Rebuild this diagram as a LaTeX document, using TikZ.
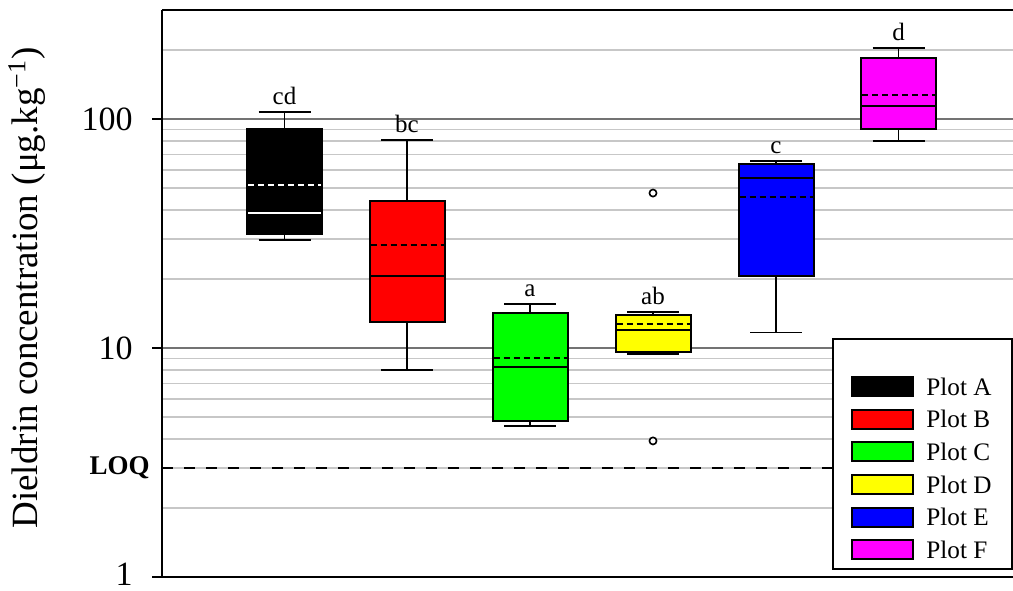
\documentclass[tikz,border=0pt]{standalone}
\usepackage{fontspec}
\setmainfont{Liberation Serif}
\usetikzlibrary{positioning}
\definecolor{plotred}{RGB}{255,0,0}
\definecolor{plotgreen}{RGB}{0,255,0}
\definecolor{plotyellow}{RGB}{255,255,0}
\definecolor{plotblue}{RGB}{0,0,255}
\definecolor{plotmagenta}{RGB}{255,0,255}

\begin{document}
\begin{tikzpicture}[x=0.5pt,y=114.5pt,
    minorgrid/.style={black!22,line width=0.8pt},
    majorgrid/.style={black!55,line width=0.8pt},
    whisk/.style={line width=0.9pt},
    boxst/.style={draw=black,line width=1pt},
    meanline/.style={line width=1pt,dash pattern=on 3pt off 2pt},
    letter/.style={font=\fontsize{12.5}{15}\selectfont,above},
    ticklab/.style={font=\fontsize{17}{20}\selectfont,anchor=east,inner sep=0pt}]
    \useasboundingbox (0,-0.0568) rectangle (1013,2.5197);

    % Gridlines
    \foreach \v in {2,3,...,9,20,30,...,90,200}
        \draw[minorgrid] (162,{log10(\v)}) -- (1013,{log10(\v)});
    \foreach \v in {10,100}
        \draw[majorgrid] (162,{log10(\v)}) -- (1013,{log10(\v)});
    % LOQ line
    \draw[line width=1.1pt,dash pattern=on 5.5pt off 5.5pt] (162,{log10(3)}) -- (1013,{log10(3)});

    % Axes
    \draw[line width=1pt] (162,2.476) -- (162,0);
    \draw[line width=1pt] (162,2.476) -- (1013,2.476);
    \draw[line width=1pt] (152,0) -- (1013,0);
    \foreach \v in {1,2} \draw[line width=1pt] (152,\v) -- (162,\v);

    % Tick labels
    \node[ticklab] (t1) at (133,0.012) {1};
    \node[ticklab] (t10) at (133,1) {10};
    \node[ticklab] (t100) at (133,2) {100};
    \node[ticklab,font=\fontsize{13.5}{16}\selectfont\bfseries] (loq) at (150,{log10(3)}) {LOQ};
    \node[rotate=90,font=\fontsize{18.5}{22}\selectfont] (ylab) at (27,1.262)
        {Dieldrin concentration (μg.kg\textsuperscript{−1})};

    % Boxes: x / low whisker / Q1 / median / mean / Q3 / high whisker / fill / line colour / letters / name
    \foreach \x/\wl/\qa/\md/\mn/\qb/\wh/\c/\mc/\lab/\nm in {
        284.5/29.6/31.5/38.9/51.5/90.4/107/black/white/cd/A,
        407/8.0/13.0/20.6/28.2/43.8/81/plotred/black/bc/B,
        530/4.56/4.8/8.26/9.04/14.2/15.6/plotgreen/black/a/C,
        653/9.4/9.6/12.0/12.7/13.9/14.4/plotyellow/black/ab/D,
        776/11.7/20.6/55.2/45.6/63.6/65.6/plotblue/black/c/E,
        898.5/80/90.4/114/127/184.6/204/plotmagenta/black/d/F}
    {
        \draw[whisk] (\x,{log10(\wl)}) -- (\x,{log10(\qa)})
            ({\x-26},{log10(\wl)}) -- ({\x+26},{log10(\wl)});
        \draw[whisk] (\x,{log10(\qb)}) -- (\x,{log10(\wh)})
            ({\x-26},{log10(\wh)}) -- ({\x+26},{log10(\wh)});
        \draw[boxst,fill=\c] ({\x-37.5},{log10(\qa)}) rectangle ({\x+37.5},{log10(\qb)});
        \draw[\mc,line width=1pt] ({\x-36.5},{log10(\md)}) -- ({\x+36.5},{log10(\md)});
        \draw[\mc,meanline] ({\x-36.5},{log10(\mn)}) -- ({\x+36.5},{log10(\mn)});
        \node[letter] (lbl\nm) at (\x,{log10(\wh)}) {\lab};
    }
    % Outliers of plot D
    \draw[line width=0.8pt,fill=white] (653,{log10(47.5)}) circle (1.8pt);
    \draw[line width=0.8pt,fill=white] (653,{log10(3.93)}) circle (1.8pt);

    % Legend
    \begin{scope}[y=0.5pt]
        \draw[line width=1pt,fill=white] (833,8) rectangle (1012,238);
        \foreach \c/\t [count=\i] in {black/A,plotred/B,plotgreen/C,plotyellow/D,plotblue/E,plotmagenta/F}
        {
            \draw[line width=1pt,fill=\c] (852,{213.5-32.6*\i}) rectangle (913,{232.5-32.6*\i});
            \node[anchor=west,inner sep=0pt,font=\fontsize{12.6}{15}\selectfont]
                (leg\t) at (926,{223-32.6*\i}) {Plot \t};
        }
    \end{scope}
\end{tikzpicture}
\end{document}
